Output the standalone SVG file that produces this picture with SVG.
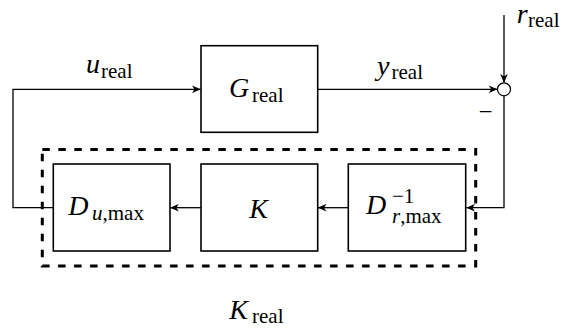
<svg xmlns="http://www.w3.org/2000/svg" width="565" height="328" viewBox="0 0 565 328">
<style>
.box{fill:#fff;stroke:#000;stroke-width:1.6}
.ln{fill:none;stroke:#000;stroke-width:1.3}
.v{font-family:"Liberation Serif","DejaVu Serif",serif;font-style:italic;font-size:28px}
.s{font-family:"Liberation Serif","DejaVu Serif",serif;font-style:normal;font-size:21px}
.si{font-family:"Liberation Serif","DejaVu Serif",serif;font-style:italic;font-size:21px}
.n{font-family:"Liberation Serif","DejaVu Serif",serif;font-size:25px}
.dash{fill:none;stroke:#000;stroke-width:3;stroke-dasharray:7.5 8.5}
</style>
<defs>
<marker id="a" markerWidth="10" markerHeight="8" viewBox="-9.5 -4 10 8" refX="0" refY="0" orient="auto" markerUnits="userSpaceOnUse">
<path d="M0.3,0 L-8.5,-3.8 L-6,0 L-8.5,3.8 Z" fill="#000"/>
</marker>
</defs>
<g id="connectors">
<path class="ln" d="M53.3 207.7 H13 V89.3 H200.5" marker-end="url(#a)"/>
<path class="ln" d="M317.7 89.3 H497.2" marker-end="url(#a)"/>
<path class="ln" d="M504 15 V82.5" marker-end="url(#a)"/>
<path class="ln" d="M504 95.8 V207.7 H466.5" marker-end="url(#a)"/>
<path class="ln" d="M348.3 207.7 H318" marker-end="url(#a)"/>
<path class="ln" d="M201 207.7 H170.3" marker-end="url(#a)"/>
</g>
<g id="G">
<rect class="box" x="201" y="45.7" width="116.7" height="86.6"/>
<text x="229" y="97.3"><tspan class="v">G</tspan><tspan class="s" x="252" y="102">real</tspan></text>
</g>
<g id="sum">
<circle cx="504" cy="89.3" r="6.5" fill="#fff" stroke="#000" stroke-width="1.2"/>
<text class="n" x="485.5" y="119.5" text-anchor="middle">−</text>
</g>
<g id="Du">
<rect class="box" x="53.3" y="164" width="116.7" height="87"/>
<text x="68.3" y="215"><tspan class="v">D</tspan><tspan class="si" x="92" y="219.5">u</tspan><tspan class="s">,max</tspan></text>
</g>
<g id="K">
<rect class="box" x="201" y="164" width="116.7" height="87"/>
<text class="v" x="258.7" y="218.3" text-anchor="middle">K</text>
</g>
<g id="Dr">
<rect class="box" x="348.3" y="164" width="117.4" height="87"/>
<text x="366" y="214"><tspan class="v">D</tspan><tspan class="s" x="392" y="202.5">−1</tspan><tspan class="si" x="392" y="222.5">r</tspan><tspan class="s">,max</tspan></text>
</g>
<g id="Kreal">
<rect class="dash" x="42.3" y="149.5" width="433.4" height="116.5"/>
<text x="229.3" y="319.3"><tspan class="v">K</tspan><tspan class="s" x="252" y="323.2">real</tspan></text>
</g>
<g id="labels">
<text x="86" y="73.3"><tspan class="v">u</tspan><tspan class="s" x="101" y="77.5">real</tspan></text>
<text x="377" y="75"><tspan class="v">y</tspan><tspan class="s" x="391.5" y="78.5">real</tspan></text>
<text x="516.7" y="23"><tspan class="v">r</tspan><tspan class="s" x="528" y="26.5">real</tspan></text>
</g>
</svg>
